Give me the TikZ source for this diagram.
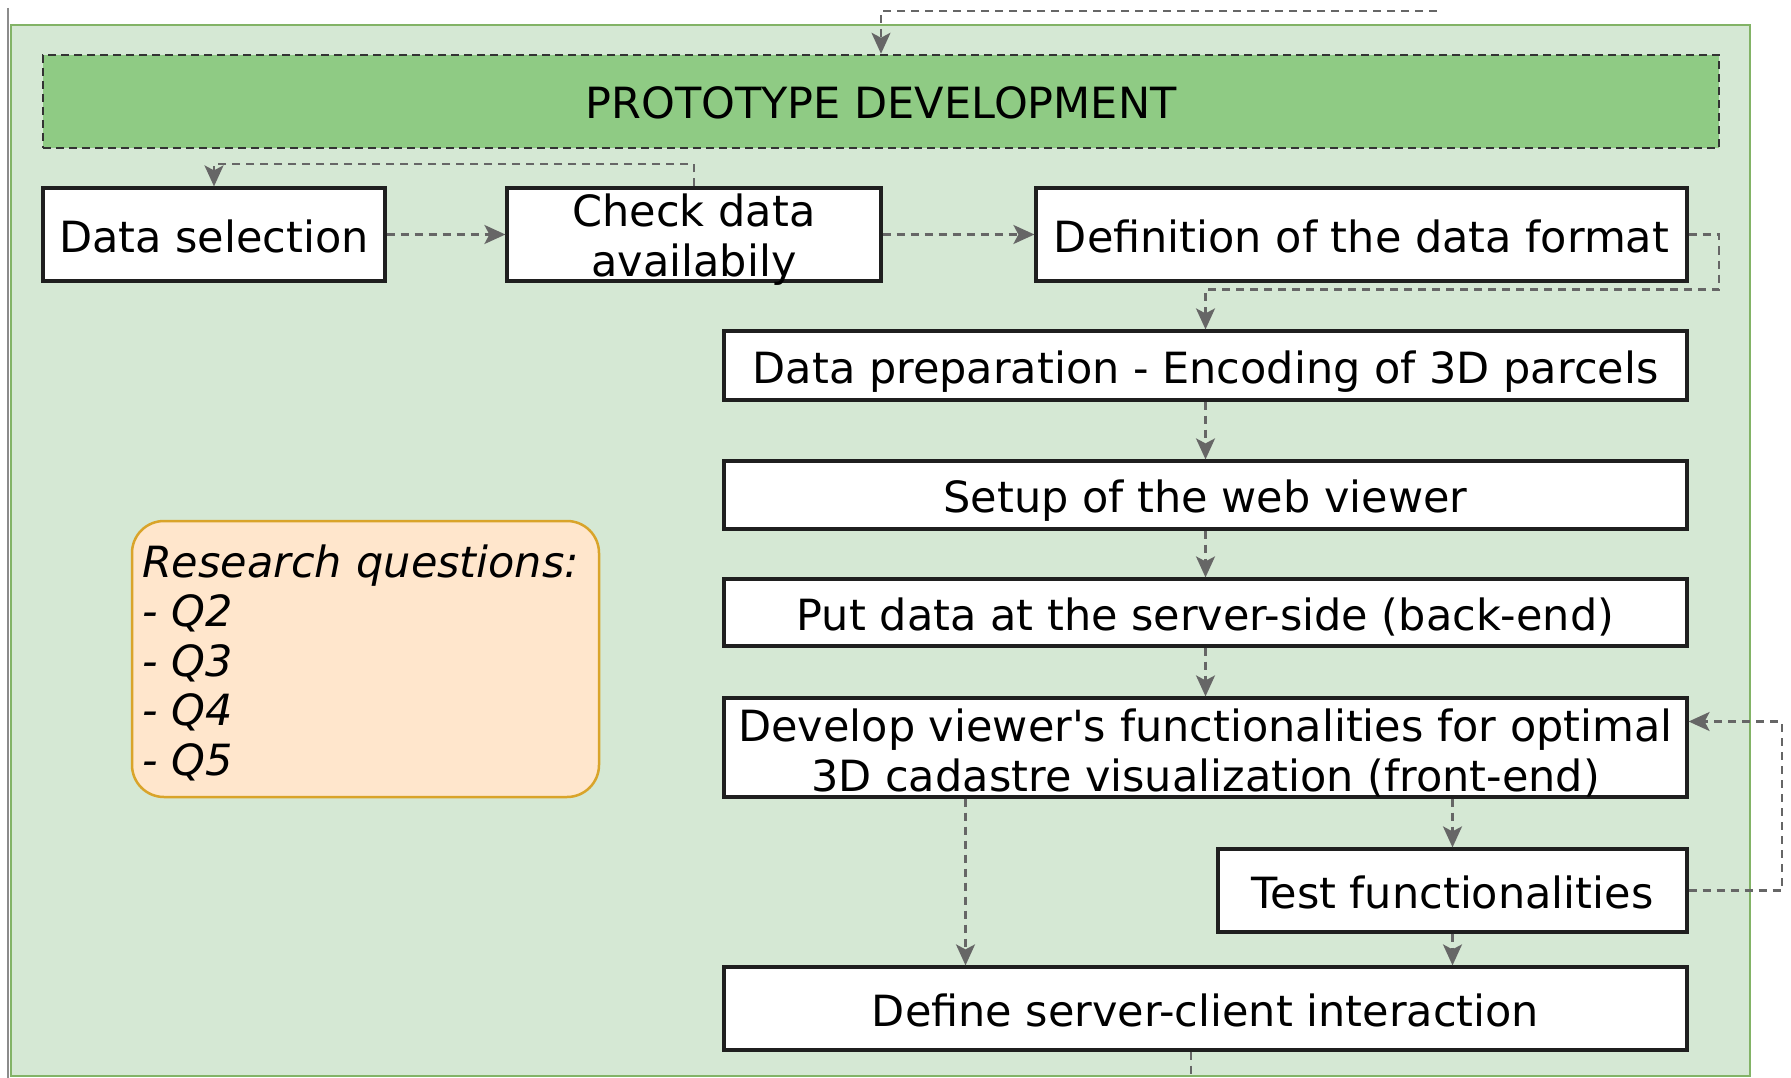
\documentclass[tikz,border=0pt]{standalone}
\usepackage{fontspec}
\setmainfont{DejaVu Sans}[Ligatures=TeXOff]
\usetikzlibrary{arrows.meta}

\definecolor{panelfill}{HTML}{D5E8D4}
\definecolor{paneldraw}{HTML}{82B366}
\definecolor{barfill}{HTML}{8FCB84}
\definecolor{notefill}{HTML}{FFE6CC}
\definecolor{notedraw}{HTML}{D9A42A}
\definecolor{flowgray}{HTML}{666666}

\tikzset{
	taskbox/.style={draw=black!88, line width=3.2pt, fill=white, inner sep=0pt,
		minimum height=#1},
	oneline/.style={text height=40pt, text depth=5pt},
	twolines/.style={label={[align=center, yshift=-5pt]center:#1}},
	phasebar/.style={draw=black!80, line width=2.5pt, dash pattern=on 8pt off 5pt,
		fill=barfill, inner sep=0pt},
	flow/.style={draw=flowgray, line width=2.2pt, dash pattern=on 8pt off 6pt,
		-{Stealth[length=21pt,width=19pt,inset=5pt]}}
}

\begin{document}
\begin{tikzpicture}[x=1pt,y=-1pt,font=\fontsize{43pt}{50pt}\selectfont]

	\useasboundingbox (0,0) rectangle (1791,1078);

	% phase panel
	\draw[fill=panelfill, draw=paneldraw, line width=2pt] (11,25) rectangle (1750,1076);
	\draw[black!45, line width=2pt] (8,8) -- (8,1078);

	\node[phasebar, oneline, minimum width=1676pt, minimum height=93pt] (proto) at (881,101.5)
		{PROTOTYPE DEVELOPMENT};

	% first row
	\node[taskbox=93pt, oneline, minimum width=342pt] (datasel) at (214,234.5) {Data selection};
	\node[taskbox=93pt, minimum width=374pt, twolines={Check data\\availabily}]
		(checkdata) at (694,234.5) {};
	\node[taskbox=93pt, oneline, minimum width=651pt] (dataformat) at (1361.5,234.5)
		{Definition of the data format};

	% main column
	\node[taskbox=69pt, oneline, minimum width=963pt] (dataprep) at (1205.5,365.5)
		{Data preparation - Encoding of 3D parcels};
	\node[taskbox=68pt, oneline, minimum width=963pt] (webviewer) at (1205.5,495)
		{Setup of the web viewer};
	\node[taskbox=67pt, oneline, minimum width=963pt] (serverside) at (1205.5,612.5)
		{Put data at the server-side (back-end)};
	\node[taskbox=99pt, minimum width=963pt,
		twolines={Develop viewer's functionalities for optimal\\3D cadastre visualization (front-end)}]
		(frontend) at (1205.5,747.5) {};
	\node[taskbox=83pt, oneline, minimum width=469pt] (testfunc) at (1452.5,890.5)
		{Test functionalities};
	\node[taskbox=83pt, oneline, minimum width=963pt] (interaction) at (1205.5,1008.5)
		{Define server-client interaction};

	\node[draw=notedraw, fill=notefill, line width=2.5pt, rounded corners=32pt,
		minimum width=467pt, minimum height=276pt, inner xsep=10pt,
		text width=447pt, align=left, font=\fontsize{43pt}{49.4pt}\selectfont\itshape]
		(questions) at (365.5,659)
		{\rule{0pt}{40pt}Research questions:\\- Q2\\- Q3\\- Q4\\- Q5};

	\coordinate (prevphase) at (1437,11);
	\coordinate (nextphase) at (1191,1080);

	\draw[flow] (prevphase) -| (proto.north);
	\draw[flow] (checkdata.north) -- ++(0,-22) -| (datasel.north);
	\draw[flow] (datasel.east) -- (checkdata.west);
	\draw[flow] (checkdata.east) -- (dataformat.west);
	\draw[flow] (dataformat.east) -- ++(30,0) -- ++(0,55) -| (dataprep.north);
	\draw[flow] (dataprep.south) -- (webviewer.north);
	\draw[flow] (webviewer.south) -- (serverside.north);
	\draw[flow] (serverside.south) -- (frontend.north);
	\draw[flow] (frontend.south -| testfunc.north) -- (testfunc.north);
	\draw[flow] ([xshift=-240pt]frontend.south) -- ([xshift=-240pt]interaction.north);
	\draw[flow] (testfunc.south) -- (testfunc.south |- interaction.north);
	\draw[flow] (testfunc.east) -- ++(93,0) |- ([yshift=26pt]frontend.east);
	\draw[flow, -] (interaction.south -| nextphase) -- (nextphase);

\end{tikzpicture}
\end{document}
